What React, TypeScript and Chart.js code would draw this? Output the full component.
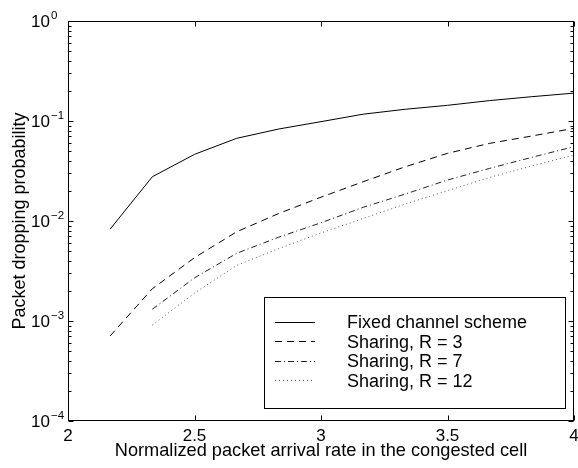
import React, { useEffect, useRef } from "react";
import { Chart, registerables } from "chart.js";

Chart.register(...registerables);

const xValues = [2.1667, 2.3333, 2.5, 2.6667, 2.8333, 3.0, 3.1667, 3.3333, 3.5, 3.6667, 3.8333, 4.0];
const fixedScheme = [0.0083, 0.0277, 0.0464, 0.0671, 0.0832, 0.0985, 0.117, 0.131, 0.1435, 0.16, 0.175, 0.19];
const sharingR3 = [0.00071, 0.0021, 0.0043, 0.0078, 0.0119, 0.0173, 0.0247, 0.0349, 0.0475, 0.0598, 0.0708, 0.0845];
const sharingR7 = [null, 0.00131, 0.0027, 0.00475, 0.0069, 0.0096, 0.0137, 0.0186, 0.0257, 0.0336, 0.0433, 0.0554];
const sharingR12 = [null, 0.00091, 0.0019, 0.0036, 0.0053, 0.0076, 0.0106, 0.0148, 0.0201, 0.0273, 0.0355, 0.0457];

const seriesLabels = ["Fixed channel scheme", "Sharing, R = 3", "Sharing, R = 7", "Sharing, R = 12"];
const xTickValues = [2, 2.5, 3, 3.5, 4];
const xTickLabels = ["2", "2.5", "3", "3.5", "4"];
const yTickExponents = [0, -1, -2, -3, -4];
const xTitle = "Normalized packet arrival rate in the congested cell";
const yTitle = "Packet dropping probability";

function toPoints(values: (number | null)[]) {
  const pts: { x: number; y: number }[] = [];
  values.forEach((v, i) => {
    if (v !== null) pts.push({ x: xValues[i], y: v });
  });
  return pts;
}

const FONT = "'Liberation Sans', Arial, Helvetica, sans-serif";

const axesPlugin = {
  id: "matlabAxes",
  afterDraw(chart: any) {
    const ctx = chart.ctx as CanvasRenderingContext2D;
    const a = chart.chartArea;
    const xs = chart.scales.x;
    const ys = chart.scales.y;
    ctx.save();
    ctx.strokeStyle = "#000";
    ctx.fillStyle = "#000";
    ctx.lineWidth = 1;
    const L = Math.round(a.left) + 0.5;
    const R = Math.round(a.right) - 0.5;
    const T = Math.round(a.top) + 0.5;
    const B = Math.round(a.bottom) - 0.5;
    ctx.strokeRect(L, T, R - L, B - T);
    ctx.beginPath();
    xTickValues.forEach((v) => {
      const px = Math.round(xs.getPixelForValue(v)) + 0.5;
      ctx.moveTo(px, B);
      ctx.lineTo(px, B - 5);
      ctx.moveTo(px, T);
      ctx.lineTo(px, T + 5);
    });
    yTickExponents.forEach((k) => {
      const base = Math.pow(10, k);
      const py = Math.round(ys.getPixelForValue(base)) + 0.5;
      ctx.moveTo(L, py);
      ctx.lineTo(L + 5, py);
      ctx.moveTo(R, py);
      ctx.lineTo(R - 5, py);
      if (k < 0) {
        for (let m = 2; m <= 9; m++) {
          const pm = Math.round(ys.getPixelForValue(m * base)) + 0.5;
          ctx.moveTo(L, pm);
          ctx.lineTo(L + 3, pm);
          ctx.moveTo(R, pm);
          ctx.lineTo(R - 3, pm);
        }
      }
    });
    ctx.stroke();

    ctx.font = `17px ${FONT}`;
    ctx.textAlign = "center";
    ctx.textBaseline = "alphabetic";
    xTickValues.forEach((v, i) => {
      const px = xs.getPixelForValue(v);
      ctx.fillText(xTickLabels[i], px, a.bottom + 20);
    });
    yTickExponents.forEach((k) => {
      const py = ys.getPixelForValue(Math.pow(10, k));
      ctx.font = `17px ${FONT}`;
      ctx.textAlign = "right";
      ctx.fillText("10", a.left - 18, py + 6);
      ctx.font = `11.5px ${FONT}`;
      ctx.textAlign = "left";
      ctx.fillText(k === 0 ? "0" : "\u2212" + String(-k), a.left - 17, py - 2);
    });
    ctx.font = `18.2px ${FONT}`;
    ctx.textAlign = "center";
    ctx.fillText(xTitle, (a.left + a.right) / 2, a.bottom + 35);
    ctx.save();
    ctx.translate(25, (a.top + a.bottom) / 2);
    ctx.rotate(-Math.PI / 2);
    ctx.font = `18px ${FONT}`;
    ctx.fillText(yTitle, 0, 0);
    ctx.restore();

    const bx = 264.5, by = 297.5, bw = 301, bh = 111;
    ctx.fillStyle = "#fff";
    ctx.fillRect(bx, by, bw, bh);
    ctx.strokeStyle = "#000";
    ctx.strokeRect(bx, by, bw, bh);
    chart.data.datasets.forEach((ds: any, i: number) => {
      const y = 321.5 + i * 19.5;
      ctx.save();
      ctx.strokeStyle = ds.borderColor;
      ctx.lineWidth = ds.borderWidth;
      ctx.setLineDash(ds.borderDash || []);
      ctx.beginPath();
      ctx.moveTo(275, Math.round(y) + 0.5);
      ctx.lineTo(315, Math.round(y) + 0.5);
      ctx.stroke();
      ctx.restore();
      ctx.fillStyle = "#000";
      ctx.font = `18px ${FONT}`;
      ctx.textAlign = "left";
      ctx.textBaseline = "alphabetic";
      ctx.fillText(ds.label, 347, y + 6.5);
    });
    ctx.restore();
  },
};

export default function App() {
  const ref = useRef<HTMLCanvasElement | null>(null);
  useEffect(() => {
    if (!ref.current) return;
    const chart = new Chart(ref.current, {
      type: "line",
      data: {
        datasets: [
          { label: seriesLabels[0], data: toPoints(fixedScheme), borderColor: "#000", borderWidth: 1, borderDash: [] },
          { label: seriesLabels[1], data: toPoints(sharingR3), borderColor: "#000", borderWidth: 1, borderDash: [7, 5] },
          { label: seriesLabels[2], data: toPoints(sharingR7), borderColor: "#222", borderWidth: 1, borderDash: [6, 3, 1, 3] },
          { label: seriesLabels[3], data: toPoints(sharingR12), borderColor: "#555", borderWidth: 1, borderDash: [1, 3] },
        ] as any,
      },
      options: {
        animation: false,
        responsive: false,
        events: [],
        layout: { padding: { left: 68, top: 21, right: 4, bottom: 47 } },
        elements: { point: { radius: 0 }, line: { tension: 0 } },
        scales: {
          x: { type: "linear", min: 2, max: 4, display: false },
          y: { type: "logarithmic", min: 1e-4, max: 1, display: false },
        },
        plugins: { legend: { display: false }, tooltip: { enabled: false } },
      },
      plugins: [axesPlugin],
    });
    return () => chart.destroy();
  }, []);
  return (
    <div style={{ position: "absolute", left: 0, top: 0, width: 578, height: 468, background: "#fff" }}>
      <canvas ref={ref} width={578} height={468} style={{ display: "block" }} />
    </div>
  );
}
